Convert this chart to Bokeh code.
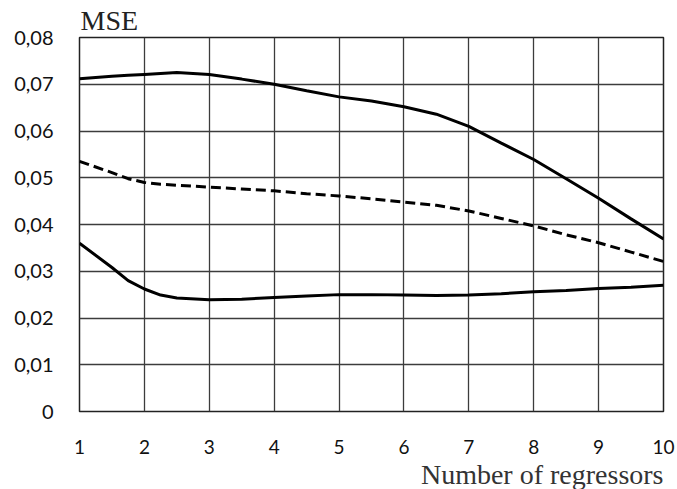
from bokeh.plotting import figure
from bokeh.models import FixedTicker, Title, Range1d
from bokeh.embed import file_html
from bokeh.resources import INLINE

x_vals = [1, 1.5, 1.75, 2, 2.25, 2.5, 3, 3.5, 4, 4.5, 5, 5.5, 6, 6.5, 7, 7.5, 8, 8.5, 9, 9.5, 10]
upper = [0.0712, 0.0717, 0.0719, 0.0721, 0.0723, 0.0725, 0.0721, 0.0711, 0.0700, 0.0686, 0.0673, 0.0664, 0.0652, 0.0636, 0.0610, 0.0574, 0.0539, 0.0498, 0.0456, 0.0412, 0.0369]
dashed = [0.0535, 0.0511, 0.0498, 0.0490, 0.0486, 0.0484, 0.0480, 0.0476, 0.0472, 0.0466, 0.0461, 0.0455, 0.0448, 0.0441, 0.0429, 0.0413, 0.0397, 0.0378, 0.0361, 0.0341, 0.0321]
lower = [0.0360, 0.0308, 0.0280, 0.0262, 0.0249, 0.0243, 0.0239, 0.0240, 0.0244, 0.0247, 0.0250, 0.0250, 0.0249, 0.0248, 0.0249, 0.0252, 0.0256, 0.0259, 0.0263, 0.0266, 0.0270]

x_ticks = [1, 2, 3, 4, 5, 6, 7, 8, 9, 10]
y_ticks = [0, 0.01, 0.02, 0.03, 0.04, 0.05, 0.06, 0.07, 0.08]
y_tick_labels = ["0", "0,01", "0,02", "0,03", "0,04", "0,05", "0,06", "0,07", "0,08"]
y_title = "MSE"
x_title = "Number of regressors"

p = figure(width=677, height=489, output_backend="svg", toolbar_location=None,
           x_range=Range1d(1, 10), y_range=Range1d(0, 0.08),
           min_border_left=79, min_border_right=14, min_border_top=37, min_border_bottom=75)
p.background_fill_color = "white"
p.border_fill_color = "white"
p.outline_line_color = "#222222"
p.outline_line_width = 1.5

p.title.text = y_title
p.title.text_font = "Liberation Serif"
p.title.text_font_size = "28px"
p.title.text_font_style = "normal"
p.title.text_color = "#222222"
p.title.align = "left"
p.title.offset = 1
p.title.standoff = 4

p.xaxis.ticker = FixedTicker(ticks=x_ticks)
p.yaxis.ticker = FixedTicker(ticks=y_ticks)
p.yaxis.major_label_overrides = {t: l for t, l in zip(y_ticks, y_tick_labels)}
for ax in (p.xaxis, p.yaxis):
    ax.axis_line_color = None
    ax.major_tick_line_color = None
    ax.minor_tick_line_color = None
    ax.major_label_text_font = "Lato"
    ax.major_label_text_color = "#111111"
p.yaxis.major_label_text_font_size = "20px"
p.xaxis.major_label_text_font_size = "19px"
p.yaxis.major_label_standoff = 20
p.xaxis.major_label_standoff = 22

p.grid.grid_line_color = "#3c3c3c"
p.grid.grid_line_width = 1.3
p.grid.grid_line_alpha = 1.0

p.line(x_vals, upper, line_color="black", line_width=3)
p.line(x_vals, dashed, line_color="black", line_width=3, line_dash="10 5")
p.line(x_vals, lower, line_color="black", line_width=3)

xt = Title(text=x_title, align="right", text_font="Liberation Serif", text_font_size="28px",
           text_font_style="normal", text_color="#333333", offset=0, standoff=0,
           text_line_height=0.8)
p.add_layout(xt, "below")

open("out.html", "w").write(file_html(p, INLINE))
